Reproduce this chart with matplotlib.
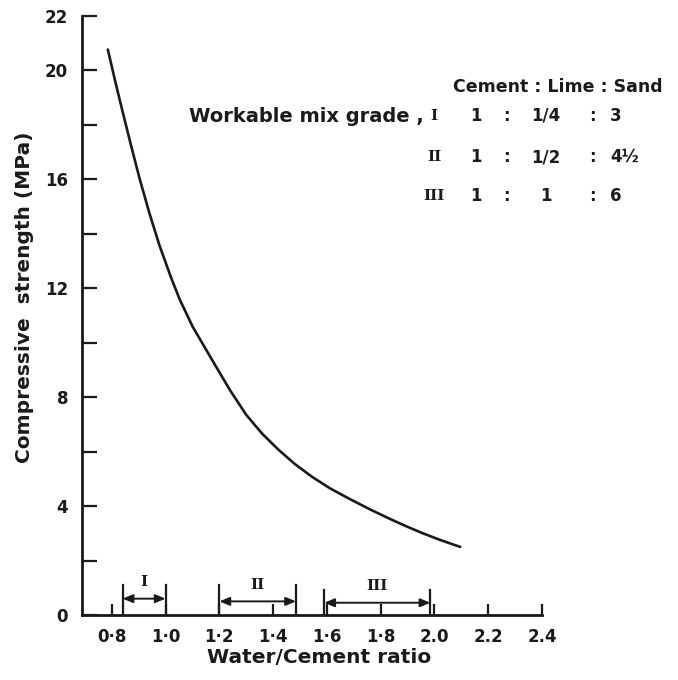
import matplotlib
matplotlib.use("Agg")
import matplotlib.pyplot as plt

# ---- data ----
wc_ratio = [0.785, 0.815, 0.841, 0.870, 0.904, 0.940, 0.978, 1.020, 1.052, 1.100,
            1.174, 1.240, 1.300, 1.360, 1.422, 1.480, 1.544, 1.610, 1.681, 1.760,
            1.830, 1.890, 1.952, 2.020, 2.096]
strength = [20.77, 19.50, 18.45, 17.30, 16.00, 14.75, 13.55, 12.40, 11.60, 10.60,
            9.35, 8.25, 7.35, 6.65, 6.05, 5.55, 5.08, 4.66, 4.28, 3.88,
            3.55, 3.28, 3.02, 2.76, 2.50]

grade_names = ["I", "II", "III"]
grade_lo = [0.84, 1.20, 1.59]
grade_hi = [1.00, 1.485, 1.985]

x_ticks = [0.8, 1.0, 1.2, 1.4, 1.6, 1.8, 2.0, 2.2, 2.4]
x_tick_labels = ["0·8", "1·0", "1·2", "1·4", "1·6", "1·8", "2.0", "2.2", "2.4"]
y_ticks = [0, 2, 4, 6, 8, 10, 12, 14, 16, 18, 20, 22]
y_tick_labels = ["0", "", "4", "", "8", "", "12", "", "16", "", "20", "22"]

mix_header = "Cement : Lime : Sand"
mix_grades = ["I", "II", "III"]
mix_cement = ["1", "1", "1"]
mix_lime = ["1/4", "1/2", "1"]
mix_sand = ["3", "4½", "6"]

# ---- figure ----
plt.rcParams["font.family"] = ["DejaVu Sans"]
plt.rcParams["font.weight"] = "bold"
W, H = 678, 680
fig = plt.figure(figsize=(W / 100, H / 100), dpi=100)
ax = fig.add_axes([82 / W, 1 - 615 / H, (542 - 82) / W, (615 - 16) / H])
ink = "#1a1a1a"

ax.plot(wc_ratio, strength, color=ink, lw=1.9, solid_capstyle="round",
        solid_joinstyle="round")

ax.set_xlim(0.689, 2.4)
ax.set_ylim(0, 22)
for s in ["top", "right"]:
    ax.spines[s].set_visible(False)
for s in ["left", "bottom"]:
    ax.spines[s].set_linewidth(2.0)
    ax.spines[s].set_color(ink)

ax.set_xticks(x_ticks)
ax.set_xticklabels(x_tick_labels)
ax.set_yticks(y_ticks)
ax.set_yticklabels(y_tick_labels)
ax.tick_params(axis="x", direction="in", length=8, width=1.6, pad=9,
               labelsize=12, colors=ink)
ax.tick_params(axis="y", direction="in", length=11, width=1.6, pad=10,
               labelsize=12, colors=ink)

ax.set_xlabel("Water/Cement ratio", fontsize=14.5, weight="bold", color=ink)
ax.xaxis.set_label_coords(0.515, -0.055)
ax.set_ylabel("Compressive  strength (MPa)", fontsize=14.5, weight="bold", color=ink)
ax.yaxis.set_label_coords(-0.105, 0.53)

# grade ranges with double-headed arrows
bar_top = [1.1, 1.1, 0.9]
arrow_y = [0.6, 0.5, 0.45]
for name, lo, hi, top, ay in zip(grade_names, grade_lo, grade_hi, bar_top, arrow_y):
    ax.plot([lo, lo], [0, top], color=ink, lw=1.6)
    ax.plot([hi, hi], [0, top], color=ink, lw=1.6)
    ax.annotate("", xy=(hi, ay), xytext=(lo, ay),
                arrowprops=dict(arrowstyle="<|-|>,head_length=0.6,head_width=0.25",
                                color=ink, lw=1.4, shrinkA=0, shrinkB=0))
    ax.text((lo + hi) / 2, ay + 0.35, name, ha="center", va="bottom",
            fontsize=11, family="DejaVu Serif", weight="bold", color=ink)

# mix table text
def ftext(px, py, s, **kw):
    fig.text(px / W, 1 - py / H, s, color=ink, va="center", **kw)

ftext(558, 87, mix_header, ha="center", fontsize=12.5)
ftext(424, 116, "Workable mix grade ,", ha="right", fontsize=14)
rows_y = [116, 157, 196]
for gy, g, c, l, s in zip(rows_y, mix_grades, mix_cement, mix_lime, mix_sand):
    ftext(434, gy, g, ha="center", fontsize=11, family="DejaVu Serif", weight="bold")
    ftext(476, gy, c, ha="center", fontsize=12)
    ftext(506, gy, ":", ha="center", fontsize=12)
    ftext(546, gy, l, ha="center", fontsize=12)
    ftext(592, gy, ":", ha="center", fontsize=12)
    ftext(610, gy, s, ha="left", fontsize=12)

fig.savefig("out.png", dpi=100, facecolor="white")
